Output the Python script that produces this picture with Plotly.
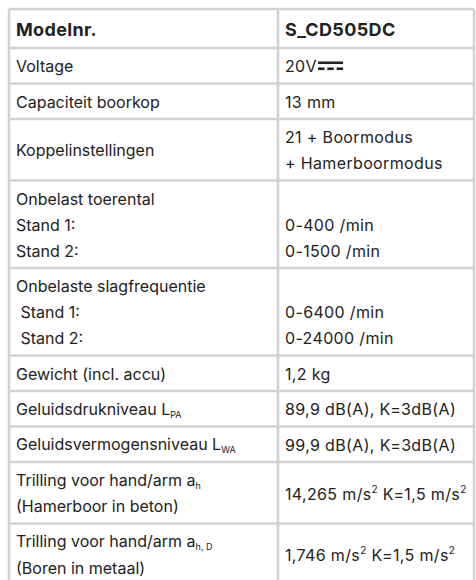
import plotly.graph_objects as go

# ---------------- data ----------------
header_label = "Modelnr."
header_value = "S_CD505DC"

SUB = "<sub><span style='font-size:9px'>{}</span></sub>"
SUP = "<sup><span style='font-size:10px'>{}</span></sup>"

spec_labels = [
    ["Voltage"],
    ["Capaciteit boorkop"],
    ["Koppelinstellingen"],
    ["Onbelast toerental", "Stand 1:", "Stand 2:"],
    ["Onbelaste slagfrequentie", "\u00a0Stand 1:", "\u00a0Stand 2:"],
    ["Gewicht (incl. accu)"],
    ["Geluidsdrukniveau L" + SUB.format("PA")],
    ["Geluidsvermogensniveau L" + SUB.format("WA")],
    ["Trilling voor hand/arm a" + SUB.format("h"), "(Hamerboor in beton)"],
    ["Trilling voor hand/arm a" + SUB.format("h, D"), "(Boren in metaal)"],
]
spec_values = [
    ["20V"],
    ["13 mm"],
    ["21 + Boormodus", "+ Hamerboormodus"],
    ["", "0-400 /min", "0-1500 /min"],
    ["", "0-6400 /min", "0-24000 /min"],
    ["1,2 kg"],
    ["89,9 dB(A), K=3dB(A)"],
    ["99,9 dB(A), K=3dB(A)"],
    ["14,265 m/s" + SUP.format("2") + " K=1,5 m/s" + SUP.format("2")],
    ["1,746 m/s" + SUP.format("2") + " K=1,5 m/s" + SUP.format("2")],
]
dc_symbol_row = 0  # row whose value carries the DC symbol

# ---------------- layout constants ----------------
W, H = 476, 580
LEFT, MID, RIGHT, TOP = 9, 278, 474, 9
HEADER_H = 39
LINE_H = 26
PAD = 9.5
TXT_L, TXT_R = LEFT + 5, MID + 5
GRID = "#d2d2d2"
GRID_W = 2.6
FONT = "Inter"
TXT_COLOR = "#222222"
BODY_SIZE = 16
HEAD_SIZE = 18
LABEL_SPACING = "0px"
VALUE_SPACING = "0.35px"
HEAD_SPACING = "0.35px"

fig = go.Figure()
fig.add_trace(go.Scatter(x=[None], y=[None], showlegend=False, hoverinfo="skip"))

annotations = []
shapes = []

def txt(x, y, s, spacing, size=BODY_SIZE, bold=False):
    inner = f"<b>{s}</b>" if bold else s
    annotations.append(dict(
        x=x, y=y, xref="x", yref="y",
        text=f"<span style='letter-spacing:{spacing}'>{inner}</span>",
        showarrow=False, xanchor="left", yanchor="middle",
        font=dict(family=FONT, size=size, color=TXT_COLOR)))

def hline(y):
    shapes.append(dict(type="line", xref="x", yref="y", x0=LEFT, x1=RIGHT, y0=y, y1=y,
                       line=dict(color=GRID, width=GRID_W)))

# header
y = TOP
hline(y)
txt(TXT_L, y + HEADER_H / 2 + 1, header_label, HEAD_SPACING, size=HEAD_SIZE, bold=True)
txt(TXT_R, y + HEADER_H / 2 + 1, header_value, HEAD_SPACING, size=HEAD_SIZE, bold=True)
y += HEADER_H
hline(y)

for i, (lab, val) in enumerate(zip(spec_labels, spec_values)):
    n = max(len(lab), len(val))
    h = n * LINE_H + PAD
    for lines, x0, sp in ((lab, TXT_L, LABEL_SPACING), (val, TXT_R, VALUE_SPACING)):
        off = (n - len(lines)) * LINE_H / 2
        for k, s in enumerate(lines):
            if s:
                txt(x0, y + PAD / 2 + off + (k + 0.5) * LINE_H + 0.5, s, sp)
    if i == dc_symbol_row:
        cy = y + h / 2
        sx = TXT_R + 35
        shapes.append(dict(type="line", xref="x", yref="y", x0=sx, x1=sx + 25,
                           y0=cy - 3, y1=cy - 3, line=dict(color=TXT_COLOR, width=2.6)))
        for d in range(3):
            shapes.append(dict(type="line", xref="x", yref="y",
                               x0=sx + d * 9.3, x1=sx + d * 9.3 + 6.5,
                               y0=cy + 3, y1=cy + 3, line=dict(color=TXT_COLOR, width=2.6)))
    y += h
    hline(y)

bottom = y
for x in (LEFT, MID, RIGHT):
    shapes.append(dict(type="line", xref="x", yref="y", x0=x, x1=x, y0=TOP, y1=bottom,
                       line=dict(color=GRID, width=GRID_W)))

fig.update_layout(
    width=W, height=H, autosize=False,
    margin=dict(l=0, r=0, t=0, b=0),
    paper_bgcolor="white", plot_bgcolor="white",
    xaxis=dict(range=[0, W], visible=False, fixedrange=True),
    yaxis=dict(range=[H, 0], visible=False, fixedrange=True),
    annotations=annotations, shapes=shapes, showlegend=False,
)
fig.write_html("out.html", config={"displayModeBar": False},
               post_script="document.body.style.margin='0';document.body.style.overflow='hidden';")
